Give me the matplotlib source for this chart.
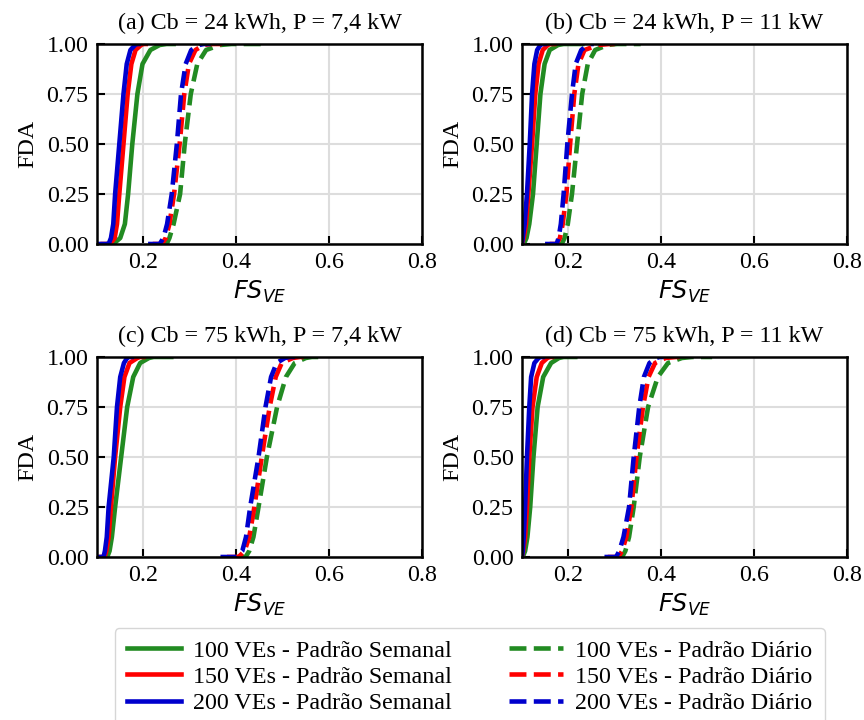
import matplotlib
matplotlib.use("Agg")
import matplotlib.pyplot as plt
import numpy as np

plt.rcParams['font.family'] = ['Liberation Serif', 'DejaVu Serif']
plt.rcParams['mathtext.fontset'] = 'dejavusans'

fda = [0.0, 0.0, 0.03, 0.1, 0.25, 0.5, 0.75, 0.9, 0.97, 0.995, 1.0, 1.0]

titles = ["(a) Cb = 24 kWh, P = 7,4 kW", "(b) Cb = 24 kWh, P = 11 kW",
          "(c) Cb = 75 kWh, P = 7,4 kW", "(d) Cb = 75 kWh, P = 11 kW"]
n_ves = ["100", "150", "200"]

# weekly pattern (solid), x values at the FDA levels above, per panel: [100, 150, 200]
semanal = [
    [[0.125, 0.135, 0.150, 0.160, 0.167, 0.176, 0.187, 0.198, 0.215, 0.235, 0.250, 0.265],
     [0.112, 0.128, 0.138, 0.143, 0.148, 0.157, 0.166, 0.174, 0.183, 0.195, 0.200, 0.205],
     [0.100, 0.125, 0.130, 0.135, 0.139, 0.148, 0.157, 0.164, 0.172, 0.182, 0.186, 0.190]],
    [[0.101, 0.104, 0.110, 0.116, 0.124, 0.132, 0.140, 0.149, 0.160, 0.178, 0.190, 0.230],
     [0.100, 0.100, 0.104, 0.109, 0.114, 0.122, 0.129, 0.136, 0.145, 0.156, 0.161, 0.170],
     [0.100, 0.100, 0.102, 0.106, 0.111, 0.117, 0.122, 0.127, 0.133, 0.140, 0.143, 0.150]],
    [[0.115, 0.122, 0.127, 0.132, 0.139, 0.152, 0.165, 0.178, 0.193, 0.212, 0.222, 0.260],
     [0.108, 0.116, 0.120, 0.125, 0.130, 0.139, 0.150, 0.159, 0.170, 0.187, 0.193, 0.200],
     [0.100, 0.114, 0.117, 0.121, 0.125, 0.136, 0.143, 0.150, 0.158, 0.165, 0.168, 0.175]],
    [[0.100, 0.102, 0.107, 0.112, 0.118, 0.125, 0.134, 0.146, 0.163, 0.180, 0.190, 0.215],
     [0.100, 0.100, 0.103, 0.107, 0.111, 0.116, 0.123, 0.132, 0.143, 0.155, 0.161, 0.165],
     [0.100, 0.100, 0.102, 0.104, 0.107, 0.111, 0.116, 0.120, 0.127, 0.136, 0.140, 0.145]],
]

# daily pattern (dashed)
diario = [
    [[0.240, 0.250, 0.256, 0.265, 0.279, 0.289, 0.302, 0.316, 0.335, 0.365, 0.390, 0.462],
     [0.220, 0.240, 0.248, 0.256, 0.266, 0.278, 0.288, 0.298, 0.312, 0.330, 0.345, 0.370],
     [0.210, 0.235, 0.243, 0.251, 0.261, 0.272, 0.281, 0.291, 0.303, 0.320, 0.330, 0.345]],
    [[0.175, 0.186, 0.192, 0.199, 0.208, 0.219, 0.230, 0.242, 0.258, 0.285, 0.305, 0.356],
     [0.160, 0.175, 0.182, 0.188, 0.196, 0.204, 0.213, 0.222, 0.235, 0.265, 0.290, 0.300],
     [0.150, 0.175, 0.179, 0.184, 0.190, 0.198, 0.208, 0.216, 0.228, 0.242, 0.248, 0.255]],
    [[0.400, 0.420, 0.428, 0.437, 0.448, 0.466, 0.488, 0.507, 0.526, 0.550, 0.563, 0.592],
     [0.380, 0.405, 0.418, 0.428, 0.439, 0.455, 0.472, 0.485, 0.498, 0.522, 0.538, 0.560],
     [0.366, 0.401, 0.413, 0.421, 0.430, 0.448, 0.463, 0.475, 0.487, 0.505, 0.516, 0.530]],
    [[0.300, 0.316, 0.323, 0.331, 0.341, 0.354, 0.372, 0.393, 0.415, 0.445, 0.467, 0.510],
     [0.285, 0.308, 0.316, 0.325, 0.336, 0.347, 0.361, 0.373, 0.387, 0.410, 0.433, 0.440],
     [0.278, 0.303, 0.310, 0.319, 0.331, 0.341, 0.353, 0.363, 0.375, 0.390, 0.397, 0.405]],
]

colors = ['forestgreen', 'red', 'mediumblue']
fs = 17.3

fig = plt.figure(figsize=(8.64, 7.2), dpi=100)
lefts = [0.1123, 0.6040]
bottoms = [0.6611, 0.2264]
axes = []
for r in range(2):
    for c in range(2):
        axes.append(fig.add_axes([lefts[c], bottoms[r], 0.376, 0.2778]))

for k, ax in enumerate(axes):
    for i in range(3):
        ax.plot(semanal[k][i], fda, color=colors[i], lw=3.3, ls='-',
                label=n_ves[i] + " VEs - Padrão Semanal")
    for i in range(3):
        ax.plot(diario[k][i], fda, color=colors[i], lw=3.3, ls='--',
                label=n_ves[i] + " VEs - Padrão Diário")
    ax.set_xlim(0.1, 0.8)
    ax.set_ylim(0, 1)
    ax.set_xticks([0.2, 0.4, 0.6, 0.8])
    ax.set_yticks([0, 0.25, 0.5, 0.75, 1.0])
    ax.set_yticklabels(["0.00", "0.25", "0.50", "0.75", "1.00"])
    ax.grid(True, color='#dddddd', lw=1.5)
    ax.set_axisbelow(True)
    ax.tick_params(direction='in', length=6, width=1.5, labelsize=fs, pad=6)
    for s in ax.spines.values():
        s.set_linewidth(1.8)
    ax.set_title(titles[k], fontsize=fs, pad=11)
    ax.set_ylabel("FDA", fontsize=fs, labelpad=6)
    ax.set_xlabel("$FS_{VE}$", fontsize=fs, labelpad=4)

handles, labels = axes[0].get_legend_handles_labels()
fig.legend(handles, labels, loc='upper center', bbox_to_anchor=(0.5435, 0.128),
           ncol=2, fontsize=fs, handlelength=2.25, handletextpad=0.5,
           columnspacing=2.4, labelspacing=0.18, borderpad=0.5, borderaxespad=0)

fig.savefig("out.png", dpi=100)
